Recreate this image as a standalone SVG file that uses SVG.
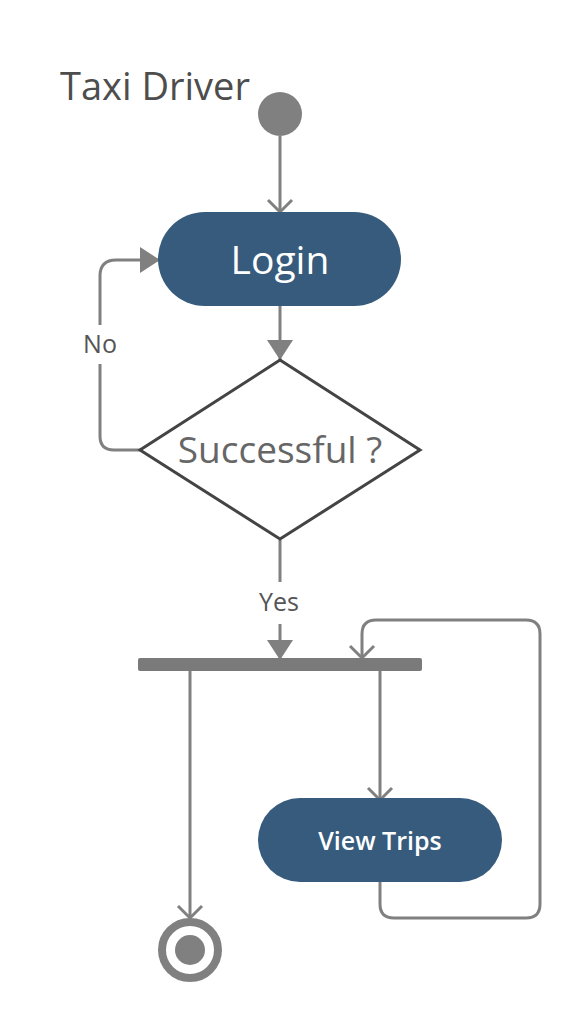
<svg xmlns="http://www.w3.org/2000/svg" width="580" height="1020" viewBox="0 0 580 1020">
<defs>
<marker id="open" markerUnits="userSpaceOnUse" markerWidth="30" markerHeight="30" viewBox="-15 -15 30 30" refX="0" refY="0" orient="auto">
<path d="M-12,-12 L0,0 L-12,12" fill="none" stroke="#808080" stroke-width="3"/>
</marker>
<marker id="filled" markerUnits="userSpaceOnUse" markerWidth="30" markerHeight="30" viewBox="-22 -15 30 30" refX="0" refY="0" orient="auto">
<path d="M-20,-13 L0,0 L-20,13 Z" fill="#808080"/>
</marker>
</defs>
<style>
.edge{fill:none;stroke:#808080;stroke-width:3}
.act{fill:#365b7d}
.wt{fill:#ffffff;font-family:"Open Sans","Noto Sans",sans-serif;text-anchor:middle}
.lbl{fill:#555555;font-family:"Open Sans","Noto Sans",sans-serif;font-size:25px;text-anchor:middle}
</style>
<rect width="580" height="1020" fill="#ffffff"/>
<text x="60" y="100" font-family="'Open Sans','Noto Sans',sans-serif" font-size="38" fill="#4d4d4d">Taxi Driver</text>
<g id="connectors">
<path class="edge" d="M280,136 V212" marker-end="url(#open)"/>
<path class="edge" d="M280,306 V360" marker-end="url(#filled)"/>
<path class="edge" d="M140,450 H114 Q100,450 100,436 V364"/>
<path class="edge" d="M100,325 V276 Q100,260 116,260 H160" marker-end="url(#filled)"/>
<path class="edge" d="M280,540 V582"/>
<path class="edge" d="M280,624 V660" marker-end="url(#filled)"/>
<path class="edge" d="M190,671 V918" marker-end="url(#open)"/>
<path class="edge" d="M380,671 V800" marker-end="url(#open)"/>
<path class="edge" d="M380,880 V904 Q380,918 394,918 H526 Q540,918 540,904 V634 Q540,620 526,620 H376 Q362,620 362,634 V658" marker-end="url(#open)"/>
<text class="lbl" x="100" y="353">No</text>
<text class="lbl" x="279" y="611">Yes</text>
</g>
<g id="start"><circle cx="280" cy="114" r="22" fill="#808080"/></g>
<g id="login">
<rect class="act" x="158" y="212" width="243" height="94" rx="47"/>
<text class="wt" x="280" y="274" font-size="39">Login</text>
</g>
<g id="decision">
<polygon points="280,360 420,450 280,539 140,450" fill="#ffffff" stroke="#444444" stroke-width="3"/>
<text x="280" y="463" font-family="'Open Sans','Noto Sans',sans-serif" font-size="37" fill="#666666" text-anchor="middle">Successful ?</text>
</g>
<g id="fork"><rect x="138" y="658" width="284" height="13" rx="2" fill="#7a7a7a"/></g>
<g id="viewtrips">
<rect class="act" x="258" y="798" width="244" height="84" rx="42"/>
<text class="wt" x="380" y="850" font-size="25" font-weight="600">View Trips</text>
</g>
<g id="end">
<circle cx="190" cy="950" r="28" fill="#ffffff" stroke="#808080" stroke-width="8"/>
<circle cx="190" cy="950" r="15" fill="#808080"/>
</g>
</svg>
